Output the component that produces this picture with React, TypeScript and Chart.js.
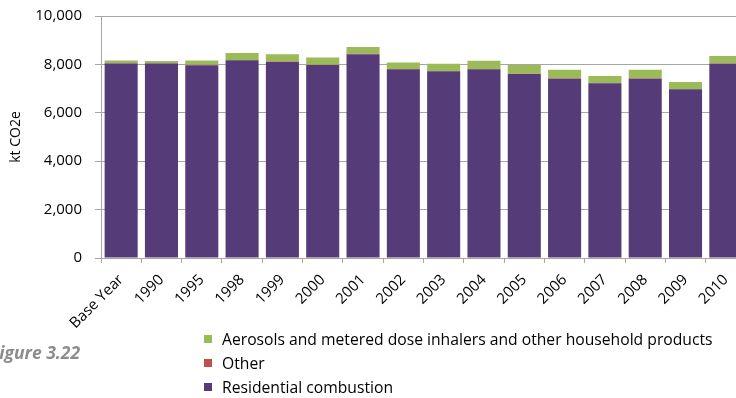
import React, { useEffect, useRef } from 'react';
import { Chart, registerables } from 'chart.js';

Chart.register(...registerables);

const categories = [
  'Base Year', '1990', '1995', '1998', '1999', '2000', '2001', '2002',
  '2003', '2004', '2005', '2006', '2007', '2008', '2009', '2010',
];

const residentialCombustion = [
  8040, 8040, 7970, 8170, 8100, 7975, 8420, 7800,
  7715, 7800, 7600, 7410, 7220, 7410, 6970, 8030,
];

const otherValues = [
  15, 15, 15, 15, 15, 15, 15, 15,
  15, 15, 15, 15, 15, 15, 15, 15,
];

const aerosolsValues = [
  110, 90, 180, 285, 305, 290, 285, 265,
  300, 335, 360, 355, 285, 355, 285, 305,
];

const yTickValues = [0, 2000, 4000, 6000, 8000, 10000];

const seriesLabels = [
  'Residential combustion',
  'Other',
  'Aerosols and metered dose inhalers and other household products',
];
const seriesColors = ['#553C78', '#C0504D', '#9BBB59'];
const seriesData = [residentialCombustion, otherValues, aerosolsValues];

const yAxisTitle = 'kt CO2e';
const figureCaption = 'Figure 3.22';

const FONT = "'Open Sans', 'DejaVu Sans', sans-serif";
const GRID = '#a6a6a6';

export default function App() {
  const canvasRef = useRef<HTMLCanvasElement | null>(null);

  useEffect(() => {
    const canvas = canvasRef.current;
    if (!canvas) return;
    const chart = new Chart(canvas, {
      type: 'bar',
      data: {
        labels: categories,
        datasets: seriesData.map((d, i) => ({
          label: seriesLabels[i],
          data: d,
          backgroundColor: seriesColors[i],
          borderWidth: 0,
          categoryPercentage: 1,
          barPercentage: 0.82,
        })),
      },
      options: {
        animation: false,
        responsive: false,
        maintainAspectRatio: false,
        layout: { padding: { top: 16, right: 14, left: 0, bottom: 0 } },
        plugins: {
          legend: { display: false },
          tooltip: { enabled: false },
        },
        scales: {
          x: {
            stacked: true,
            grid: {
              display: true,
              drawOnChartArea: false,
              drawTicks: true,
              tickLength: 5,
              color: GRID,
              offset: true,
            },
            border: { display: true, color: GRID, width: 1 },
            ticks: {
              maxRotation: 45,
              minRotation: 45,
              autoSkip: false,
              padding: 8,
              color: '#000',
              font: { family: FONT, size: 15 },
            },
            afterFit: (s: any) => {
              s.height = 140;
            },
          },
          y: {
            stacked: true,
            min: 0,
            max: 10000,
            afterBuildTicks: (s: any) => {
              s.ticks = yTickValues.map((v) => ({ value: v }));
            },
            grid: {
              color: GRID,
              lineWidth: 1,
              drawTicks: true,
              tickLength: 6,
            },
            border: { display: true, color: GRID, width: 1 },
            ticks: {
              padding: 13,
              color: '#000',
              font: { family: FONT, size: 15 },
              callback: (v: any) => Number(v).toLocaleString('en-US'),
            },
            title: {
              display: true,
              text: yAxisTitle,
              color: '#000',
              font: { family: FONT, size: 14 },
              padding: { top: 8, bottom: 0 },
            },
            afterFit: (s: any) => {
              s.width = 101;
              s.paddingTop = 0;
              s.paddingBottom = 0;
            },
          },
        },
      },
    });
    return () => chart.destroy();
  }, []);

  const legendOrder = [2, 1, 0];

  return (
    <div
      style={{
        position: 'fixed',
        left: 0,
        top: 0,
        width: 736,
        height: 398,
        overflow: 'hidden',
        background: '#fff',
      }}
    >
      <canvas
        ref={canvasRef}
        width={760}
        height={398}
        style={{ position: 'absolute', left: 0, top: 0, width: 760, height: 398 }}
      />
      <div
        style={{
          position: 'absolute',
          left: -10,
          top: 340,
          fontFamily: FONT,
          fontWeight: 'bold',
          fontStyle: 'italic',
          fontSize: 17.5,
          color: '#8c8c8c',
          whiteSpace: 'nowrap',
        }}
      >
        {figureCaption}
      </div>
      <div style={{ position: 'absolute', left: 204, top: 327 }}>
        {legendOrder.map((i) => (
          <div
            key={i}
            style={{
              display: 'flex',
              alignItems: 'center',
              height: 24,
              fontFamily: FONT,
              fontSize: 15.7,
              color: '#000',
              whiteSpace: 'nowrap',
            }}
          >
            <span
              style={{
                display: 'inline-block',
                width: 8,
                height: 8,
                background: seriesColors[i],
                marginRight: 10,
              }}
            />
            {seriesLabels[i]}
          </div>
        ))}
      </div>
    </div>
  );
}
